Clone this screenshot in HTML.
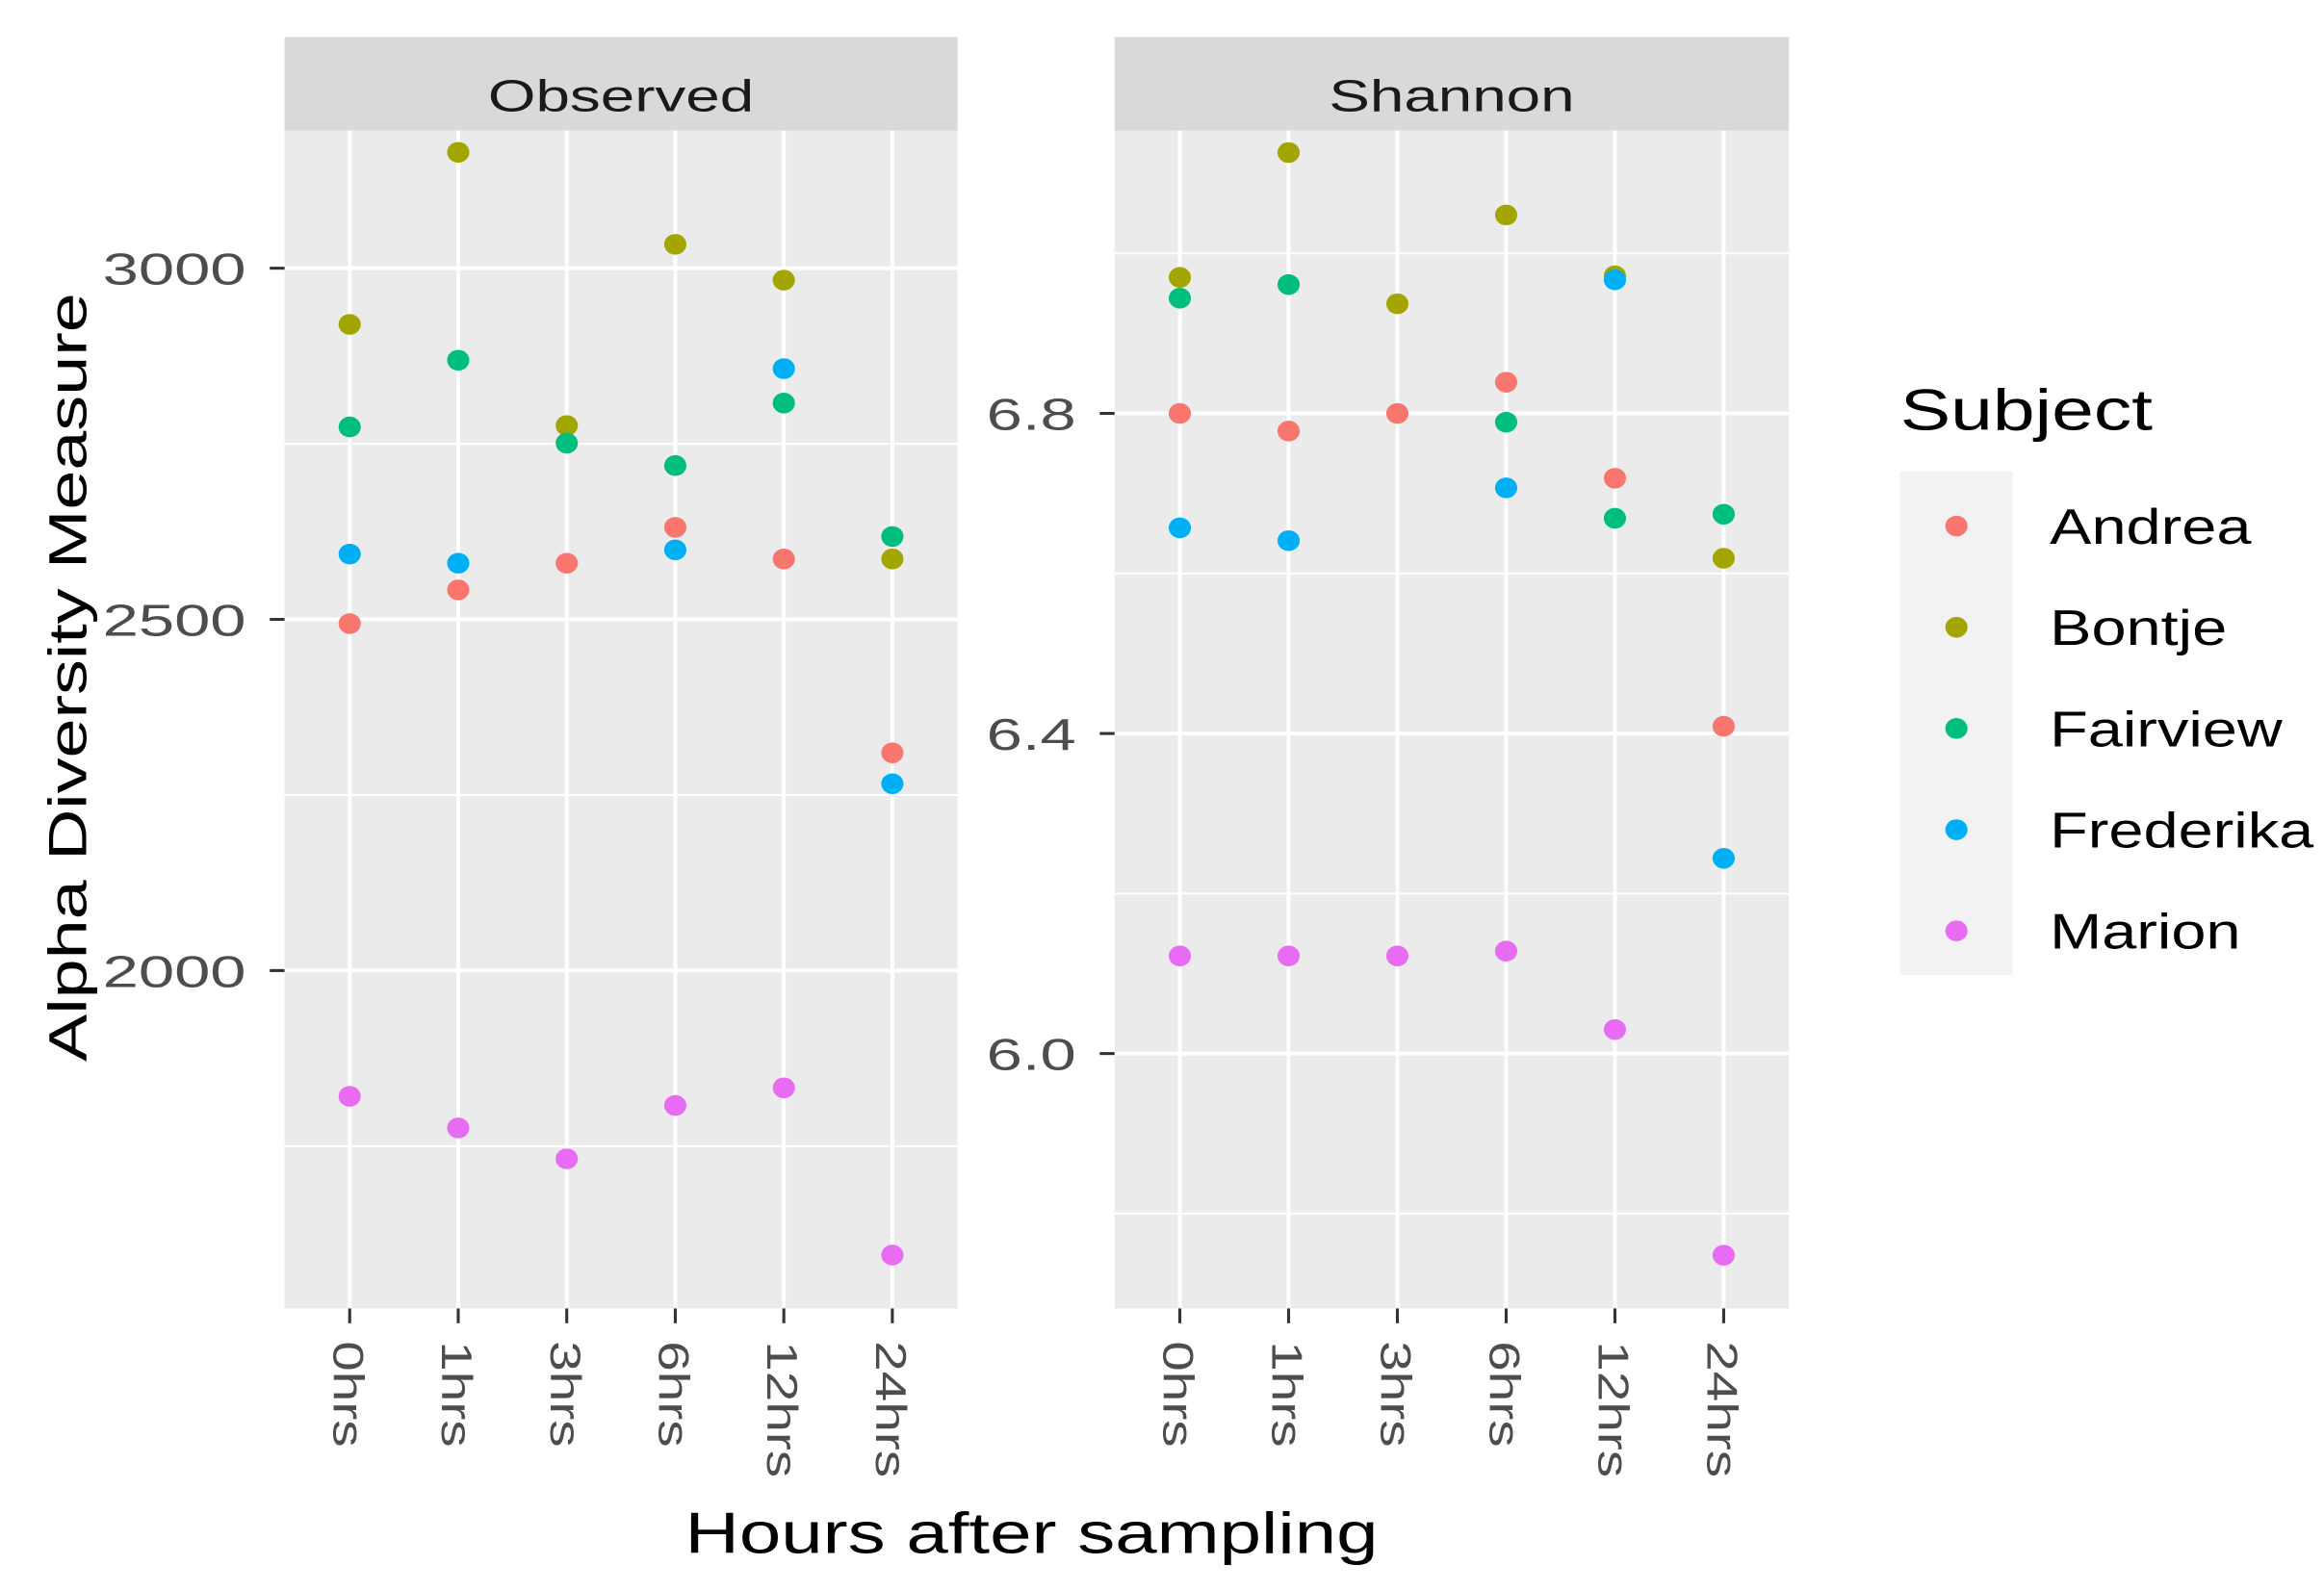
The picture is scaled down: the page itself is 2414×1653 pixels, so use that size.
<!DOCTYPE html>
<html><head><meta charset="utf-8"><style>
html,body{margin:0;padding:0;background:#fff;}
svg{display:block;font-family:"Liberation Sans",sans-serif;}
</style></head><body>
<svg id="chart" width="2414" height="1653" viewBox="0 0 1568 1073.7" preserveAspectRatio="none" xmlns="http://www.w3.org/2000/svg"></svg>
<script>
const categories = ["0hrs","1hrs","3hrs","6hrs","12hrs","24hrs"];
const subjects = ["Andrea","Bontje","Fairview","Frederika","Marion"];
const colors = ["#F8766D","#A3A500","#00BF7D","#00B0F6","#E76BF3"];
const observedAndrea = [2494,2542,2580,2631,2586,2310];
const observedBontje = [2920,3165,2776,3034,2983,2586];
const observedFairview = [2774,2869,2751,2719,2808,2618];
const observedFrederika = [2593,2580,null,2599,2857,2266];
const observedMarion = [1821,1776,1732,1808,1833,1595];
const shannonAndrea = [6.800,6.778,6.800,6.839,6.719,6.409];
const shannonBontje = [6.970,7.126,6.937,7.048,6.972,6.619];
const shannonFairview = [6.944,6.961,null,6.789,6.669,6.674];
const shannonFrederika = [6.657,6.641,null,6.707,6.967,6.244];
const shannonMarion = [6.122,6.122,6.122,6.128,6.030,5.748];
const observedTicks = [2000,2500,3000];
const observedMinor = [1750,2250,2750];
const shannonTicks = [6.0,6.4,6.8];
const shannonMinor = [5.8,6.2,6.6,7.0];

const NS="http://www.w3.org/2000/svg";
const svg=document.getElementById('chart');
function el(tag,attrs,parent){const e=document.createElementNS(NS,tag);for(const k in attrs)e.setAttribute(k,attrs[k]);(parent||svg).appendChild(e);return e;}
function stretch(t,f){const w=t.getComputedTextLength();if(w>0){t.setAttribute('textLength',w*f);t.setAttribute('lengthAdjust','spacingAndGlyphs');}}

const plotTop=88, plotBottom=883;
const panels=[
 {name:"Observed",x0:192,x1:646,series:[observedAndrea,observedBontje,observedFairview,observedFrederika,observedMarion],
  ticks:observedTicks,minor:observedMinor,y:v=>181+(3000-v)*237/500,fmt:v=>String(v)},
 {name:"Shannon",x0:752,x1:1207,series:[shannonAndrea,shannonBontje,shannonFairview,shannonFrederika,shannonMarion],
  ticks:shannonTicks,minor:shannonMinor,y:v=>279+(6.8-v)*540,fmt:v=>v.toFixed(1)}
];
panels.forEach(p=>{
  const g=el('g',{});
  
  
  const step=(p.x1-p.x0)/(categories.length-1+1.2);
  const xs=i=>p.x0+step*(0.6+i);
  const bg=el('rect',{x:p.x0,y:plotTop,width:p.x1-p.x0,height:plotBottom-plotTop,fill:'#EBEBEB'},g);
  
  
  const strip=el('rect',{x:p.x0,y:25,width:p.x1-p.x0,height:63,fill:'#D9D9D9'},g);
  
  
  const st=el('text',{x:(p.x0+p.x1)/2,y:75,'text-anchor':'middle','font-size':30,fill:'#1A1A1A'},g);
  st.textContent=p.name;
  
  
  stretch(st,1.38);
  p.minor.forEach(v=>{const yy=p.y(v);if(yy<plotTop||yy>plotBottom)return;
    const l=el('line',{x1:p.x0,x2:p.x1,y1:yy,y2:yy,stroke:'#fff','stroke-width':1.3},g);
    
    });
  p.ticks.forEach(v=>{const yy=p.y(v);
    const l=el('line',{x1:p.x0,x2:p.x1,y1:yy,y2:yy,stroke:'#fff','stroke-width':2.6},g);
    
    
    const tk=el('line',{x1:p.x0-10,x2:p.x0,y1:yy,y2:yy,stroke:'#333','stroke-width':2},g);
    
    
    const t=el('text',{x:p.x0-26,y:yy+11,'text-anchor':'end','font-size':30,fill:'#4D4D4D'},g);
    t.textContent=p.fmt(v);
    
    
    stretch(t,1.45);});
  categories.forEach((c,i)=>{const xx=xs(i);
    const l=el('line',{x1:xx,x2:xx,y1:plotTop,y2:plotBottom,stroke:'#fff','stroke-width':2.6},g);
    
    
    const tk=el('line',{x1:xx,x2:xx,y1:plotBottom,y2:plotBottom+10,stroke:'#333','stroke-width':2},g);
    
    
    const t=el('text',{x:0,y:0,'font-size':29,fill:'#4D4D4D',transform:`translate(${xx-11},${plotBottom+22}) rotate(90)`},g);
    t.textContent=c;
    
    
    stretch(t,1.27);});
  p.series.forEach((s,si)=>{s.forEach((v,i)=>{if(v==null)return;
    const c=el('ellipse',{cx:xs(i),cy:p.y(v),rx:7.5,ry:7,fill:colors[si]},g);
    
    });});
});
const yt=el('text',{x:0,y:0,'text-anchor':'middle','font-size':36,fill:'#000',transform:'translate(58,457) rotate(-90)'});
yt.textContent='Alpha Diversity Measure';


stretch(yt,1.33);
const xt=el('text',{x:696,y:1048,'text-anchor':'middle','font-size':39,fill:'#000'});
xt.textContent='Hours after sampling';


stretch(xt,1.3);
const lg=el('g',{});


const lt=el('text',{x:1282,y:290,'font-size':39,fill:'#000'},lg);
lt.textContent='Subject';


stretch(lt,1.31);
const lb=el('rect',{x:1282,y:318,width:76,height:340,fill:'#F2F2F2'},lg);


subjects.forEach((s,i)=>{const yy=355+i*68.3;
  const c=el('ellipse',{cx:1320,cy:yy,rx:7.5,ry:7,fill:colors[i]},lg);
  
  
  const t=el('text',{x:1383,y:yy+12,'font-size':34,fill:'#000'},lg);
  t.textContent=s;
  
  
  stretch(t,1.24);});
</script>
</body></html>
